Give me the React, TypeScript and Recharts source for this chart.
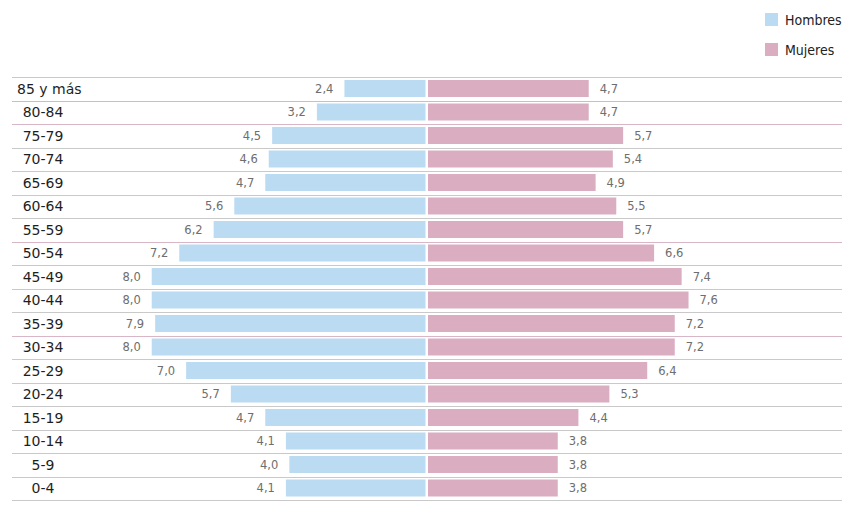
import React from 'react';
import { BarChart, Bar, XAxis, YAxis, LabelList, Rectangle } from 'recharts';

const ageGroups = [
  '85 y más', '80-84', '75-79', '70-74', '65-69', '60-64', '55-59', '50-54', '45-49',
  '40-44', '35-39', '30-34', '25-29', '20-24', '15-19', '10-14', '5-9', '0-4',
];
const hombres = [2.4, 3.2, 4.5, 4.6, 4.7, 5.6, 6.2, 7.2, 8.0, 8.0, 7.9, 8.0, 7.0, 5.7, 4.7, 4.1, 4.0, 4.1];
const mujeres = [4.7, 4.7, 5.7, 5.4, 4.9, 5.5, 5.7, 6.6, 7.4, 7.6, 7.2, 7.2, 6.4, 5.3, 4.4, 3.8, 3.8, 3.8];
const seriesNames = ['Hombres', 'Mujeres'];

const data = ageGroups.map((age, i) => ({ age, hombres: -hombres[i], mujeres: mujeres[i] }));

const BLUE = '#BBDBF2';
const PINK = '#DAADC1';
const RULE = '#C9C9C9';
const RULE_ACCENT = '#D9B6C6';
// rules under these rows come out pinkish in the original
const accentRules = new Set([0, 1, 6, 10]);

const W = 844;
const H = 508;
const M = { top: 77, right: 2, bottom: 8, left: 11 };
const BAND = (H - M.top - M.bottom) / ageGroups.length;

if (typeof document !== 'undefined') document.body.style.margin = '0';

const fmt = (v: number) => Math.abs(v).toFixed(1).replace('.', ',');

const AgeTick = (props: any) => {
  const { y, payload, index } = props;
  const label = String(payload.value);
  const long = label.length > 5;
  const below = Math.round(y + BAND / 2) + 0.5;
  const above = Math.round(y - BAND / 2) + 0.5;
  return (
    <g>
      {index === 0 && <line x1={12} x2={842} y1={above} y2={above} stroke={RULE} />}
      <line x1={12} x2={842} y1={below} y2={below} stroke={accentRules.has(index) ? RULE_ACCENT : RULE} />
      <text
        x={long ? 17 : 43}
        y={y}
        textAnchor={long ? 'start' : 'middle'}
        dominantBaseline="central"
        fontFamily="DejaVu Sans"
        fontSize={14}
        fill="#1e1e1e"
      >
        {label}
      </text>
    </g>
  );
};

const side = (p: any) => {
  const left = Math.min(p.x, p.x + p.width);
  return { left, w: Math.abs(p.width) };
};

const MenShape = (p: any) => {
  const { left, w } = side(p);
  return <Rectangle x={left} y={p.y} width={Math.max(0, w - 1.5)} height={p.height} fill={BLUE} />;
};

const WomenShape = (p: any) => {
  const { left, w } = side(p);
  return <Rectangle x={left + 1} y={p.y} width={Math.max(0, w - 1)} height={p.height} fill={PINK} />;
};

const valueLabel = (leftSide: boolean) => (p: any) => {
  const { left, w } = side(p);
  const cy = p.y + p.height / 2;
  return (
    <text
      x={leftSide ? left - 11 : left + w + 11}
      y={cy}
      textAnchor={leftSide ? 'end' : 'start'}
      dominantBaseline="central"
      fontFamily="DejaVu Sans"
      fontSize={11.5}
      fill="#6e6e6e"
    >
      {fmt(p.value)}
    </text>
  );
};

function LegendBox() {
  const colors = [BLUE, PINK];
  return (
    <div style={{ position: 'absolute', left: 765, top: 13, fontFamily: '"Liberation Sans Narrow", "DejaVu Sans Condensed"', fontSize: 14, color: '#222' }}>
      {seriesNames.map((name, i) => (
        <div key={name} style={{ display: 'flex', alignItems: 'center', height: 13, marginBottom: 17 }}>
          <span style={{ width: 13, height: 13, background: colors[i], display: 'inline-block', marginRight: 7 }} />
          <span>{name}</span>
        </div>
      ))}
    </div>
  );
}

export default function App() {
  return (
    <div style={{ position: 'relative', width: W, height: H, background: '#fff' }}>
      <BarChart width={W} height={H} data={data} layout="vertical" margin={M} stackOffset="sign" barSize={17}>
        <XAxis type="number" domain={[-12.06, 12.06]} hide />
        <YAxis
          type="category"
          dataKey="age"
          width={1}
          axisLine={false}
          tickLine={false}
          interval={0}
          tick={<AgeTick />}
        />
        <Bar dataKey="hombres" name={seriesNames[0]} stackId="p" fill={BLUE} shape={<MenShape />} isAnimationActive={false}>
          <LabelList dataKey="hombres" content={valueLabel(true)} />
        </Bar>
        <Bar dataKey="mujeres" name={seriesNames[1]} stackId="p" fill={PINK} shape={<WomenShape />} isAnimationActive={false}>
          <LabelList dataKey="mujeres" content={valueLabel(false)} />
        </Bar>
      </BarChart>
      <LegendBox />
    </div>
  );
}
